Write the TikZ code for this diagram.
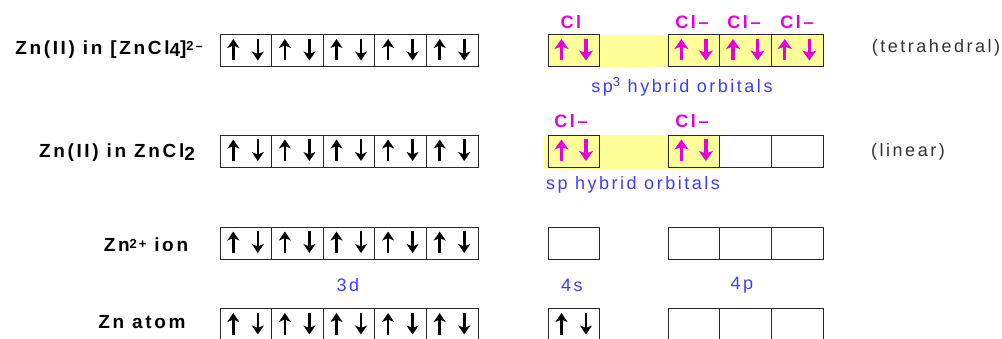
\documentclass[tikz,border=0pt]{standalone}
\usepackage{fontspec}
\setmainfont{Liberation Sans}
\newfontfamily\labfont[LetterSpace=14]{Liberation Sans}
\usetikzlibrary{arrows.meta}
\definecolor{pinkc}{RGB}{230,0,220}
\definecolor{bluec}{RGB}{60,60,255}
\definecolor{yel}{RGB}{255,255,153}
\definecolor{boxc}{RGB}{40,40,40}
\tikzset{
  orb/.style={draw=boxc, line width=1pt, minimum width=51.6pt, minimum height=32pt, inner sep=0pt, outer sep=0pt},
  blk/.style={line width=2.6pt, black, -{Stealth[length=9pt,width=12pt,inset=2.5pt]}},
  pnk/.style={line width=3.4pt, pinkc, -{Stealth[length=10pt,width=14pt,inset=2.5pt]}},
  rowlab/.style={font=\labfont\bfseries\fontsize{19}{22}\selectfont, inner sep=0pt},
  cllab/.style={font=\labfont\bfseries\fontsize{18}{20}\selectfont, text=pinkc, inner sep=0pt},
  bluelab/.style={font=\labfont\fontsize{18}{20}\selectfont, text=bluec, inner sep=0pt},
  geolab/.style={font=\labfont\fontsize{18}{20}\selectfont, text=black!80, inner sep=0pt},
}
\newcommand{\pairin}[2]{%
  \draw[#2] ([xshift=-12.5pt,yshift=-9.5pt]#1.center) -- ([xshift=-12.5pt,yshift=12pt]#1.center);
  \draw[#2] ([xshift=12pt,yshift=12pt]#1.center) -- ([xshift=12pt,yshift=-9.5pt]#1.center);
}
\begin{document}
\begin{tikzpicture}[x=1pt,y=-1pt]
\useasboundingbox (0,0) rectangle (1002,339);
% yellow hybrid bands
\fill[yel] (548,35) rectangle (823,67);
\fill[yel] (544,135) rectangle (720,169);
% rows: y centres
\foreach \r/\yy in {1/51,2/151.5,3/243.5,4/325}{
  \foreach \i in {1,...,5}{
    \node[orb] (r\r d\i) at ({220+51.6*(\i-0.5)},\yy) {};
    \pairin{r\r d\i}{blk}
  }
  \node[orb] (r\r s) at (574,\yy) {};
  \foreach \i in {1,2,3}{
    \node[orb] (r\r p\i) at ({668+51.7*(\i-0.5)},\yy) {};
  }
}
% electrons in 4s/4p
\pairin{r4s}{blk}
\pairin{r1s}{pnk}
\pairin{r1p1}{pnk}
\pairin{r1p2}{pnk}
\pairin{r1p3}{pnk}
\pairin{r2s}{pnk}
\pairin{r2p1}{pnk}
% row labels
\node[rowlab] (l1) at (109,50) {Zn(II) in [ZnCl\raisebox{-2pt}{4}]\raisebox{4pt}{\fontsize{13}{13}\selectfont 2–}};
\node[rowlab] (l2) at (117,153) {Zn(II) in ZnCl\raisebox{-3pt}{2}};
\node[rowlab] (l3) at (146,245) {Zn\raisebox{3pt}{\fontsize{13}{13}\selectfont 2+} ion};
\node[rowlab] (l4) at (142,322) {Zn atom};
% Cl labels
\node[cllab] (c1) at (571,22) {Cl};
\node[cllab] (c2) at (692,22) {Cl–};
\node[cllab] (c3) at (744,22) {Cl–};
\node[cllab] (c4) at (797,22) {Cl–};
\node[cllab] (c5) at (571,121) {Cl–};
\node[cllab] (c6) at (692,121) {Cl–};
% hybrid labels
\node[bluelab] (h1) at (682,87) {sp\raisebox{6pt}{\fontsize{13}{13}\selectfont 3} hybrid orbitals};
\node[bluelab] (h2) at (633,185) {sp hybrid orbitals};
% subshell labels
\node[bluelab] (t3d) at (348,285) {3d};
\node[bluelab] (t4s) at (572,285) {4s};
\node[bluelab] (t4p) at (742,285) {4p};
% geometry labels
\node[geolab] (g1) at (936,48) {(tetrahedral)};
\node[geolab] (g2) at (908,152) {(linear)};
\end{tikzpicture}
\end{document}
